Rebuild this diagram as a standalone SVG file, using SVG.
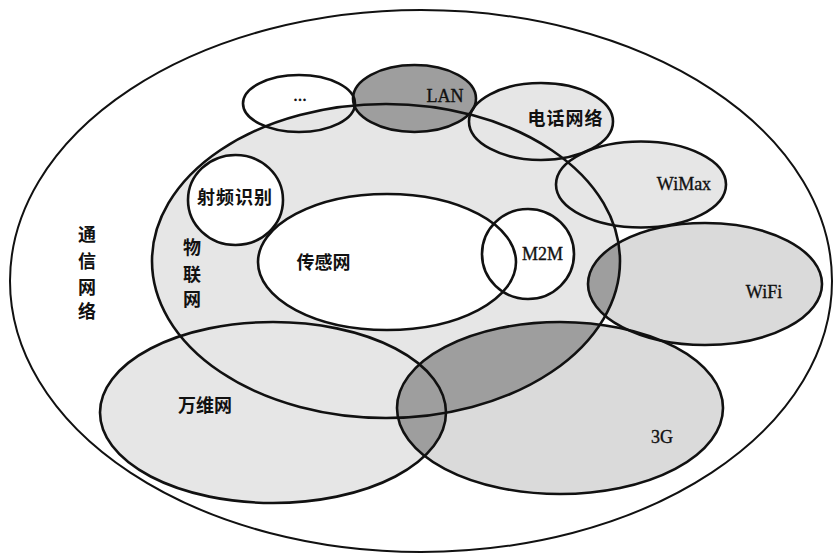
<svg xmlns="http://www.w3.org/2000/svg" width="835" height="554" viewBox="0 0 835 554">
  <style>
    .line { fill: none; stroke: #111; stroke-width: 2.6; }
    .outer { fill: #fff; stroke: #111; stroke-width: 2; }
    .light { fill: #e6e6e6; }
    .mid { fill: #dadada; }
    .dark { fill: #9e9e9e; }
    .white { fill: #fff; }
    .cn { font-family: "Noto Sans CJK SC", "Noto Sans", sans-serif; font-weight: bold; font-size: 18px; fill: #111; }
    .en { font-family: "Liberation Serif", "Times New Roman", serif; font-size: 18px; fill: #111; stroke: #111; stroke-width: 0.35; }
  </style>
  <defs>
    <clipPath id="clipIoT"><ellipse cx="386" cy="261" rx="234" ry="157"/></clipPath>
    <clipPath id="clipWWW"><ellipse cx="273" cy="412.5" rx="173" ry="90.5"/></clipPath>
  </defs>

  <!-- outer: communication network -->
  <g id="comm-network">
    <ellipse class="outer" cx="421" cy="281" rx="411" ry="271"/>
  </g>

  <!-- shading layer -->
  <g id="shading">
    <ellipse class="light" cx="386" cy="261" rx="234" ry="157"/>
    <ellipse class="light" cx="541" cy="121.5" rx="72" ry="38.5"/>
    <ellipse class="light" cx="641" cy="184.5" rx="85" ry="43"/>
    <ellipse class="light" cx="273" cy="412.5" rx="173" ry="90.5"/>
    <ellipse class="mid" cx="560" cy="408" rx="163" ry="86"/>
    <ellipse class="mid" cx="705" cy="284" rx="117" ry="61"/>
    <g clip-path="url(#clipIoT)">
      <ellipse class="dark" cx="560" cy="408" rx="163" ry="86"/>
      <ellipse class="dark" cx="705" cy="284" rx="117" ry="61"/>
    </g>
    <g clip-path="url(#clipWWW)">
      <ellipse class="dark" cx="560" cy="408" rx="163" ry="86"/>
    </g>
    <ellipse class="white" cx="387" cy="262" rx="129" ry="68"/>
    <ellipse class="white" cx="235.5" cy="200" rx="47.5" ry="45"/>
    <ellipse class="white" cx="528" cy="254" rx="46" ry="45"/>
    <ellipse class="dark" cx="414.5" cy="98.5" rx="61.5" ry="33.5"/>
  </g>

  <g id="iot">
    <ellipse class="line" cx="386" cy="261" rx="234" ry="157"/>
    <text class="cn" x="192" y="254" text-anchor="middle">物</text>
    <text class="cn" x="192" y="281" text-anchor="middle">联</text>
    <text class="cn" x="192" y="306" text-anchor="middle">网</text>
  </g>
  <g id="etc">
    <ellipse class="line" cx="299" cy="103.5" rx="56" ry="28.5"/>
    <text class="en" x="300" y="101" text-anchor="middle">...</text>
  </g>
  <g id="lan">
    <ellipse class="line" cx="414.5" cy="98.5" rx="61.5" ry="33.5"/>
    <text class="en" x="445" y="102" text-anchor="middle" font-size="19">LAN</text>
  </g>
  <g id="telephone">
    <ellipse class="line" cx="541" cy="121.5" rx="72" ry="38.5"/>
    <text class="cn" x="565.5" y="124.5" text-anchor="middle" letter-spacing="1">电话网络</text>
  </g>
  <g id="wimax">
    <ellipse class="line" cx="641" cy="184.5" rx="85" ry="43"/>
    <text class="en" x="684" y="190" text-anchor="middle">WiMax</text>
  </g>
  <g id="wifi">
    <ellipse class="line" cx="705" cy="284" rx="117" ry="61"/>
    <text class="en" x="764" y="298" text-anchor="middle">WiFi</text>
  </g>
  <g id="www">
    <ellipse class="line" cx="273" cy="412.5" rx="173" ry="90.5"/>
    <text class="cn" x="205" y="411.5" text-anchor="middle">万维网</text>
  </g>
  <g id="g3">
    <ellipse class="line" cx="560" cy="408" rx="163" ry="86"/>
    <text class="en" x="662" y="443" text-anchor="middle">3G</text>
  </g>
  <g id="sensor-network">
    <ellipse class="line" cx="387" cy="262" rx="129" ry="68"/>
    <text class="cn" x="323.5" y="268.5" text-anchor="middle">传感网</text>
  </g>
  <g id="rfid">
    <ellipse class="line" cx="235.5" cy="200" rx="47.5" ry="45"/>
    <text class="cn" x="235" y="203.5" text-anchor="middle" letter-spacing="1">射频识别</text>
  </g>
  <g id="m2m">
    <ellipse class="line" cx="528" cy="254" rx="46" ry="45"/>
    <text class="en" x="542.5" y="260" text-anchor="middle" font-size="19">M2M</text>
  </g>
  <g id="comm-label">
    <text class="cn" x="87" y="241" text-anchor="middle">通</text>
    <text class="cn" x="87" y="268" text-anchor="middle">信</text>
    <text class="cn" x="87" y="294" text-anchor="middle">网</text>
    <text class="cn" x="87" y="318" text-anchor="middle">络</text>
  </g>
</svg>
